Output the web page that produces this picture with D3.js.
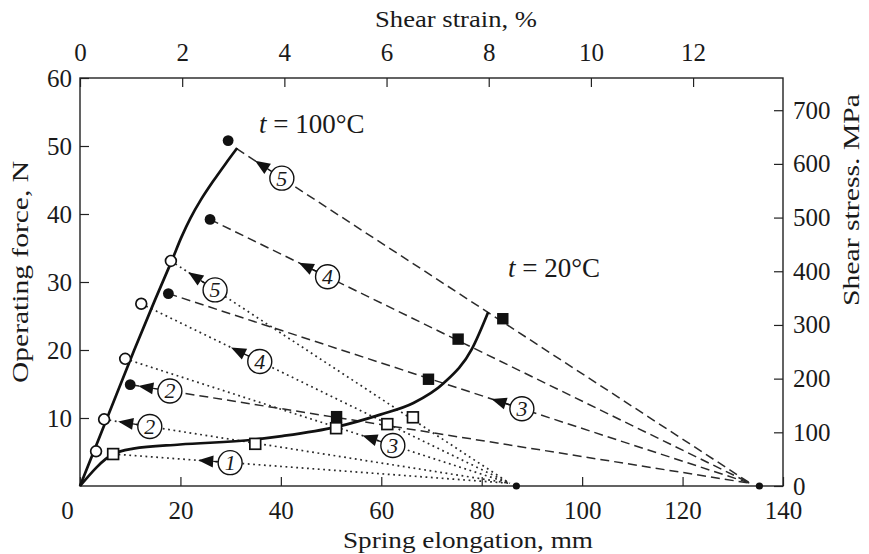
<!DOCTYPE html>
<html>
<head>
<meta charset="utf-8">
<script src="https://cdn.jsdelivr.net/npm/d3@7"></script>
<style>
  body { margin: 0; background: #fff; }
  text { font-family: "Liberation Serif", "Times New Roman", serif; fill: #1a1a1a; }
</style>
</head>
<body>
<svg id="chart" width="869" height="554"></svg>
<script>
// solid curves, [elongation mm, force N]
const curve100 = [[0, 0], [5.4, 10], [10.8, 20], [14.9, 27.3], [18.2, 33], [20.2, 36.6], [22.0, 39.4],
  [24.0, 42.0], [26.5, 44.8], [29.0, 47.4], [31.3, 49.7]];
const curve20 = [[0, 0], [6.6, 4.7], [10.6, 5.5], [19.9, 6.1], [34.5, 6.8], [39.8, 7.3], [51.1, 8.7],
  [59.8, 10.5], [66.4, 12.2], [72.4, 15.1], [78.0, 20.1], [81.3, 25.6]];

// markers
const solidDots = [[29.5, 50.8], [25.9, 39.2], [17.6, 28.3], [10.0, 14.9]];
const solidSquares = [[84.2, 24.6], [75.3, 21.6], [69.4, 15.7], [51.1, 10.2]];
const openDots = [[18.1, 33.1], [12.2, 26.8], [9.0, 18.7], [4.8, 9.8], [3.2, 5.1]];
const openSquares = [[6.6, 4.7], [34.9, 6.2], [51.0, 8.5], [61.2, 9.1], [66.3, 10.1]];
const pivots = [[86.9, 0], [135.3, 0]];

// unloading lines
const dashedFrom = [[31.2, 49.6], [25.9, 39.2], [17.6, 28.3], [10.0, 14.9]];
const dashedTo = [133.5, 0.4];
const dashedLabels = ['5', '4', '3', '2'];
const dashedLabelAt = [40.2, 49.3, 88.0, 17.9];

const dottedFrom = [[18.1, 33.1], [12.2, 26.8], [9.0, 18.7], [4.8, 9.8], [6.6, 4.7]];
const dottedTo = [85.6, 0.4];
const dottedLabels = ['5', '4', '3', '2', '1'];
const dottedLabelAt = [26.9, 35.8, 62.3, 13.9, 29.9];

const xTicks = [0, 20, 40, 60, 80, 100, 120, 140];
const strainTicks = [0, 2, 4, 6, 8, 10, 12];
const forceTicks = [10, 20, 30, 40, 50, 60];
const stressTicks = [0, 100, 200, 300, 400, 500, 600, 700];

const plotL = 80, plotR = 783, plotT = 78, plotB = 486;
const fs = 25;

const svg = d3.select('#chart');

const x = d3.scaleLinear().domain([0, 140]).range([plotL, plotR]);
const xTop = d3.scaleLinear().domain([0, 13.76]).range([plotL, plotR]);
const y = d3.scaleLinear().domain([0, 60]).range([plotB, plotT]);
const yRight = d3.scaleLinear().domain([0, 760]).range([plotB, plotT]);

// axes, ticks pointing inwards
function styleAxis(g) {
  g.select('.domain').remove();
  g.selectAll('line').attr('stroke', '#222').attr('stroke-width', 1.2);
  g.selectAll('text').attr('font-size', fs).attr('font-family', '"Liberation Serif", serif').attr('fill', '#1a1a1a');
}

svg.append('g')
  .attr('transform', 'translate(0,' + plotB + ')')
  .call(d3.axisBottom(x).tickValues(xTicks).tickSize(-9).tickSizeOuter(0).tickPadding(15))
  .call(styleAxis)
  .call(g => g.selectAll('.tick').filter(d => d === 0).select('text').attr('dx', -13));

svg.append('g')
  .attr('transform', 'translate(0,' + plotT + ')')
  .call(d3.axisTop(xTop).tickValues(strainTicks).tickSize(-9).tickSizeOuter(0).tickPadding(17))
  .call(styleAxis);

svg.append('g')
  .attr('transform', 'translate(' + plotL + ',0)')
  .call(d3.axisLeft(y).tickValues(forceTicks).tickSize(-9).tickSizeOuter(0).tickPadding(8))
  .call(styleAxis);

svg.append('g')
  .attr('transform', 'translate(' + plotR + ',0)')
  .call(d3.axisRight(yRight).tickValues(stressTicks).tickSize(-9).tickSizeOuter(0).tickPadding(10))
  .call(styleAxis);

svg.append('rect')
  .attr('x', plotL).attr('y', plotT)
  .attr('width', plotR - plotL).attr('height', plotB - plotT)
  .attr('fill', 'none').attr('stroke', '#222').attr('stroke-width', 1.4);

// axis titles (stretched to the width they take in the figure)
function title(tr, str, len) {
  svg.append('text').attr('transform', tr).attr('text-anchor', 'middle')
    .attr('font-size', 24).attr('textLength', len).attr('lengthAdjust', 'spacingAndGlyphs').text(str);
}
title('translate(468,548)', 'Spring elongation, mm', 250);
title('translate(456,27)', 'Shear strain, %', 162);
title('translate(28,272) rotate(-90)', 'Operating force, N', 222);
title('translate(859,200) rotate(-90)', 'Shear stress. MPa', 212);

// unloading lines
dashedFrom.forEach(p => {
  svg.append('line')
    .attr('x1', x(p[0])).attr('y1', y(p[1])).attr('x2', x(dashedTo[0])).attr('y2', y(dashedTo[1]))
    .attr('stroke', '#2a2a2a').attr('stroke-width', 1.5).attr('stroke-dasharray', '9,5');
});
dottedFrom.forEach(p => {
  svg.append('line')
    .attr('x1', x(p[0])).attr('y1', y(p[1])).attr('x2', x(dottedTo[0])).attr('y2', y(dottedTo[1]))
    .attr('stroke', '#2a2a2a').attr('stroke-width', 1.7).attr('stroke-dasharray', '1.8,3.6');
});

// loading curves
svg.append('path').datum(curve100)
  .attr('d', d3.line().x(d => x(d[0])).y(d => y(d[1])).curve(d3.curveCatmullRom))
  .attr('fill', 'none').attr('stroke', '#111').attr('stroke-width', 2.7);
svg.append('path').datum(curve20)
  .attr('d', d3.line().x(d => x(d[0])).y(d => y(d[1])).curve(d3.curveMonotoneX))
  .attr('fill', 'none').attr('stroke', '#111').attr('stroke-width', 2.7);

// markers
svg.selectAll('.sdot').data(solidDots).join('circle')
  .attr('cx', d => x(d[0])).attr('cy', d => y(d[1])).attr('r', 5.4).attr('fill', '#111');
svg.selectAll('.odot').data(openDots).join('circle')
  .attr('cx', d => x(d[0])).attr('cy', d => y(d[1])).attr('r', 5.4)
  .attr('fill', '#fff').attr('stroke', '#111').attr('stroke-width', 1.7);
svg.selectAll('.ssq').data(solidSquares).join('rect')
  .attr('x', d => x(d[0]) - 5.7).attr('y', d => y(d[1]) - 5.7).attr('width', 11.4).attr('height', 11.4)
  .attr('fill', '#111');
svg.selectAll('.osq').data(openSquares).join('rect')
  .attr('x', d => x(d[0]) - 5.4).attr('y', d => y(d[1]) - 5.4).attr('width', 10.8).attr('height', 10.8)
  .attr('fill', '#fff').attr('stroke', '#111').attr('stroke-width', 1.7);
svg.selectAll('.pivot').data(pivots).join('circle')
  .attr('cx', d => x(d[0])).attr('cy', d => y(d[1])).attr('r', 3.6).attr('fill', '#111');

// numbered labels with arrows pointing back to the start of each line
function numberLabel(from, to, atX, label) {
  const t = (atX - from[0]) / (to[0] - from[0]);
  const cx = x(atX), cy = y(from[1] + t * (to[1] - from[1]));
  const sx = x(from[0]), sy = y(from[1]);
  const len = Math.hypot(sx - cx, sy - cy);
  const ux = (sx - cx) / len, uy = (sy - cy) / len;
  const tip = [cx + ux * 32, cy + uy * 32];
  const base = [cx + ux * 17, cy + uy * 17];
  const px = -uy, py = ux;
  svg.append('line')
    .attr('x1', cx + ux * 11).attr('y1', cy + uy * 11).attr('x2', base[0]).attr('y2', base[1])
    .attr('stroke', '#111').attr('stroke-width', 1.4);
  svg.append('path')
    .attr('d', 'M' + tip + 'L' + [base[0] + px * 6, base[1] + py * 6] + 'L' + [base[0] - px * 6, base[1] - py * 6] + 'Z')
    .attr('fill', '#111');
  svg.append('circle').attr('cx', cx).attr('cy', cy).attr('r', 12)
    .attr('fill', '#fff').attr('stroke', '#111').attr('stroke-width', 1.4);
  svg.append('text').attr('x', cx).attr('y', cy + 7.5).attr('text-anchor', 'middle')
    .attr('font-size', 22).attr('font-style', 'italic').text(label);
}
dashedFrom.forEach((p, i) => numberLabel(p, dashedTo, dashedLabelAt[i], dashedLabels[i]));
dottedFrom.forEach((p, i) => numberLabel(p, dottedTo, dottedLabelAt[i], dottedLabels[i]));

// temperature notes
const n1 = svg.append('text').attr('x', 259).attr('y', 133).attr('font-size', 27);
n1.append('tspan').attr('font-style', 'italic').text('t');
n1.append('tspan').text(' = 100°C');
const n2 = svg.append('text').attr('x', 508).attr('y', 277).attr('font-size', 27);
n2.append('tspan').attr('font-style', 'italic').text('t');
n2.append('tspan').text(' = 20°C');
</script>
</body>
</html>
